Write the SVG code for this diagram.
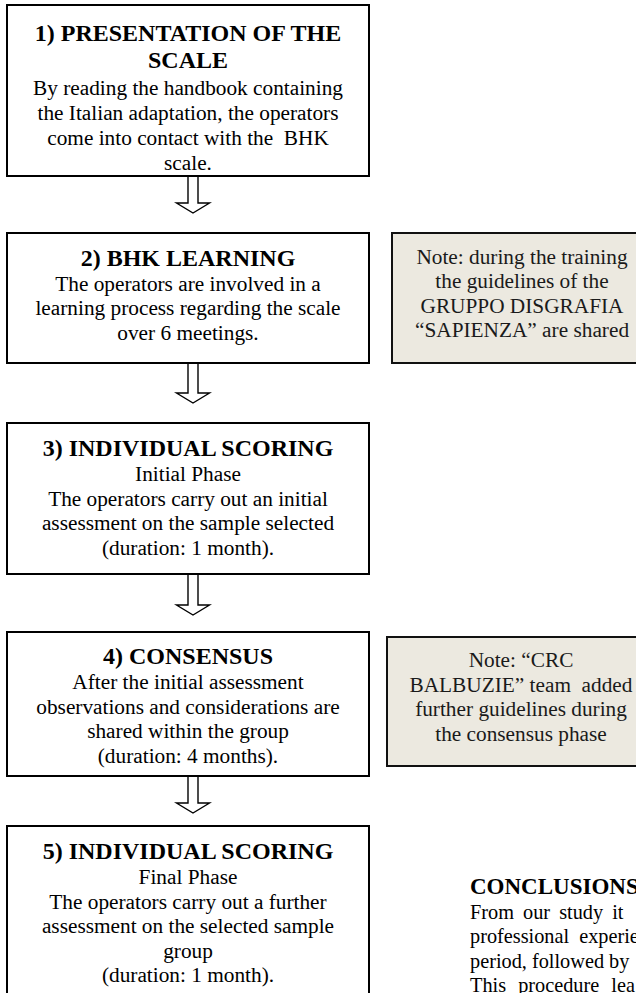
<svg xmlns="http://www.w3.org/2000/svg" width="636" height="993" viewBox="0 0 636 993">
<style>
.box{fill:#fff;stroke:#000;stroke-width:2}
.note{fill:#ECE9E0;stroke:#111;stroke-width:2}
.arrow{fill:#fff;stroke:#000;stroke-width:1.4;stroke-linejoin:miter}
text{font-family:"Liberation Serif","Times New Roman",serif;fill:#000}
.t{font-size:24px;font-weight:bold;text-anchor:middle}
.b{font-size:21.3px;text-anchor:middle}
.n{font-size:21.3px;text-anchor:middle;fill:#1a1a1a}
.ct{font-size:23px;font-weight:bold}
.cb{font-size:20.3px}
</style>
<rect width="636" height="993" fill="#fff"/>
<g id="connectors">
<polygon class="arrow" points="188,176 198,176 198,203 209.5,203 193,213 176.5,203 188,203"/>
<polygon class="arrow" points="188,363 198,363 198,393 209.5,393 193,403 176.5,393 188,393"/>
<polygon class="arrow" points="188,574 198,574 198,605 209.5,605 193,615 176.5,605 188,605"/>
<polygon class="arrow" points="188,776 198,776 198,803 209.5,803 193,813 176.5,803 188,803"/>
</g>
<g id="step1">
<rect class="box" x="7" y="5" width="362" height="171"/>
<text class="t" x="188" y="41">1) PRESENTATION OF THE</text>
<text class="t" x="188" y="68">SCALE</text>
<text class="b" x="188" y="95">By reading the handbook containing</text>
<text class="b" x="188" y="120">the Italian adaptation, the operators</text>
<text class="b" x="188" y="145">come into contact with the&#160; BHK</text>
<text class="b" x="188" y="170">scale.</text>
</g>
<g id="step2">
<rect class="box" x="7" y="233" width="362" height="130"/>
<text class="t" x="188" y="266">2) BHK LEARNING</text>
<text class="b" x="188" y="290.5">The operators are involved in a</text>
<text class="b" x="188" y="315">learning process regarding the scale</text>
<text class="b" x="188" y="339.5">over 6 meetings.</text>
</g>
<g id="note1">
<rect class="note" x="392" y="233" width="270" height="130"/>
<text class="n" x="522" y="263.5">Note: during the training</text>
<text class="n" x="522" y="288">the guidelines of the</text>
<text class="n" x="522" y="312.5">GRUPPO DISGRAFIA</text>
<text class="n" x="522" y="337">“SAPIENZA” are shared</text>
</g>
<g id="step3">
<rect class="box" x="7" y="423" width="362" height="151"/>
<text class="t" x="188" y="456">3) INDIVIDUAL SCORING</text>
<text class="b" x="188" y="481">Initial Phase</text>
<text class="b" x="188" y="505.5">The operators carry out an initial</text>
<text class="b" x="188" y="530">assessment on the sample selected</text>
<text class="b" x="188" y="554.5">(duration: 1 month).</text>
</g>
<g id="step4">
<rect class="box" x="7" y="632" width="362" height="144"/>
<text class="t" x="188" y="664">4) CONSENSUS</text>
<text class="b" x="188" y="689">After the initial assessment</text>
<text class="b" x="188" y="713.5">observations and considerations are</text>
<text class="b" x="188" y="738">shared within the group</text>
<text class="b" x="188" y="762.5">(duration: 4 months).</text>
</g>
<g id="note2">
<rect class="note" x="387" y="637" width="280" height="129"/>
<text class="n" x="521" y="667">Note: “CRC</text>
<text class="n" x="521" y="691.5">BALBUZIE” team&#160; added</text>
<text class="n" x="521" y="716">further guidelines during</text>
<text class="n" x="521" y="740.5">the consensus phase</text>
</g>
<g id="step5">
<rect class="box" x="7" y="826" width="362" height="180"/>
<text class="t" x="188" y="859">5) INDIVIDUAL SCORING</text>
<text class="b" x="188" y="884">Final Phase</text>
<text class="b" x="188" y="908.5">The operators carry out a further</text>
<text class="b" x="188" y="933">assessment on the selected sample</text>
<text class="b" x="188" y="957.5">group</text>
<text class="b" x="188" y="982">(duration: 1 month).</text>
</g>
<g id="conclusions">
<text class="ct" x="470" y="894">CONCLUSIONS</text>
<text class="cb" x="470" y="918.5" word-spacing="4">From our study it</text>
<text class="cb" x="470" y="943" word-spacing="5">professional experie</text>
<text class="cb" x="470" y="967.5">period, followed by</text>
<text class="cb" x="470" y="992" word-spacing="7">This procedure lea</text>
</g>
</svg>
